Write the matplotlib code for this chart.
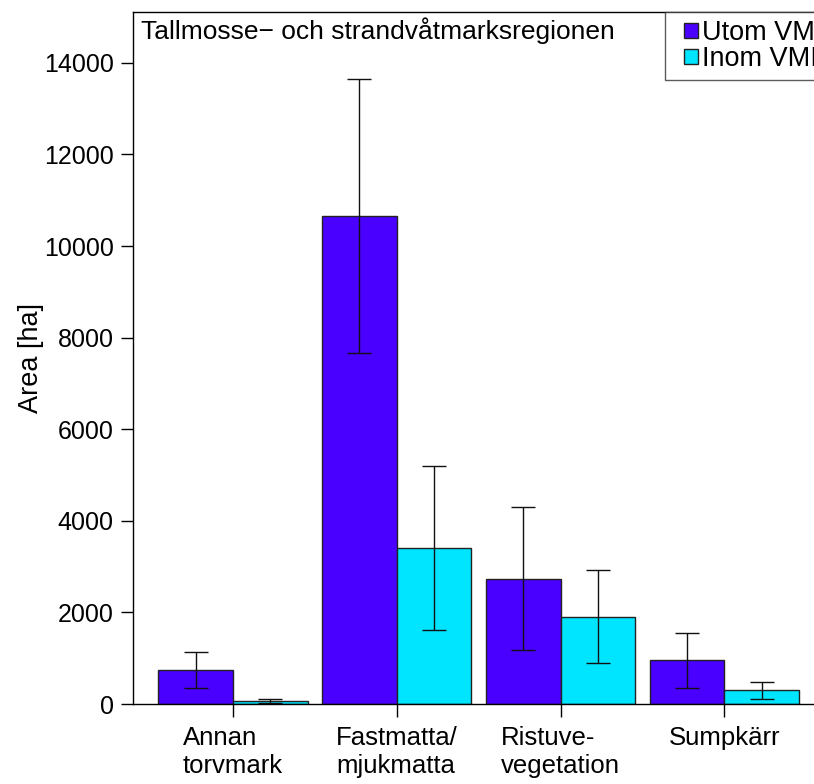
import matplotlib.pyplot as plt
import numpy as np
from matplotlib.patches import Rectangle, Patch
from matplotlib.legend_handler import HandlerPatch

plt.rcParams['font.family'] = ['Liberation Sans', 'DejaVu Sans']

categories = ["Annan\ntorvmark", "Fastmatta/\nmjukmatta", "Ristuve-\nvegetation", "Sumpkärr"]
utom = [740, 10660, 2740, 960]
utom_err = [385, 2990, 1560, 600]
inom = [60, 3410, 1910, 295]
inom_err = [45, 1790, 1020, 185]
series_names = ["Utom VMI", "Inom VMI"]
title = "Tallmosse\u2212 och strandvåtmarksregionen"

blue = "#4a00ff"
cyan = "#00e5ff"

fig = plt.figure(figsize=(8.14, 7.84), dpi=100)
ax = fig.add_axes([133 / 814, 1 - 704 / 784, (830 - 133) / 814, (704 - 12) / 784])

x = np.arange(len(categories)) * 2.197
ekw = dict(ecolor="#111111", elinewidth=1.0, capsize=8.6, capthick=1.0)
ax.bar(x - 0.5, utom, width=1, color=blue, edgecolor="#222222", linewidth=1.0,
       yerr=utom_err, error_kw=ekw)
ax.bar(x + 0.5, inom, width=1, color=cyan, edgecolor="#222222", linewidth=1.0,
       yerr=inom_err, error_kw=ekw)

ax.set_xlim(-1.342, 8.01)
ax.set_ylim(0, 15110)
ax.set_yticks(np.arange(0, 14001, 2000))
ax.set_xticks(x)
ax.set_xticklabels(categories, fontsize=18.5, linespacing=1.2, va="top",
                   multialignment="left")
ax.tick_params(axis="y", labelsize=18, length=9, width=1, pad=5)
ax.tick_params(axis="x", length=9, width=1, pad=7)
ax.set_ylabel("Area [ha]", fontsize=19.5, labelpad=0)
for s in ax.spines.values():
    s.set_linewidth(1.0)

ax.text(0.012, 0.993, title, transform=ax.transAxes, fontsize=19, va="top", ha="left")


# small square key drawn at the right end of a wider handle box
def square_key(legend, orig_handle, xdescent, ydescent, width, height, fontsize):
    s = 0.55 * fontsize
    return Rectangle((-xdescent + width - s, -ydescent + (height - s) / 2), s, s)


keys = [Patch(facecolor=blue, edgecolor="#222222", linewidth=1.0),
        Patch(facecolor=cyan, edgecolor="#222222", linewidth=1.0)]
leg = ax.legend(keys, series_names, loc="upper right", bbox_to_anchor=(1.0 + 1 / 697, 1.0),
                fontsize=19.5, frameon=True, fancybox=False, edgecolor="#333333",
                handlelength=0.92, handletextpad=0.15, borderpad=0.3, labelspacing=0.0,
                borderaxespad=0, handler_map={Patch: HandlerPatch(patch_func=square_key)})
leg.get_frame().set_linewidth(1.0)

fig.savefig("out.png", dpi=100)
